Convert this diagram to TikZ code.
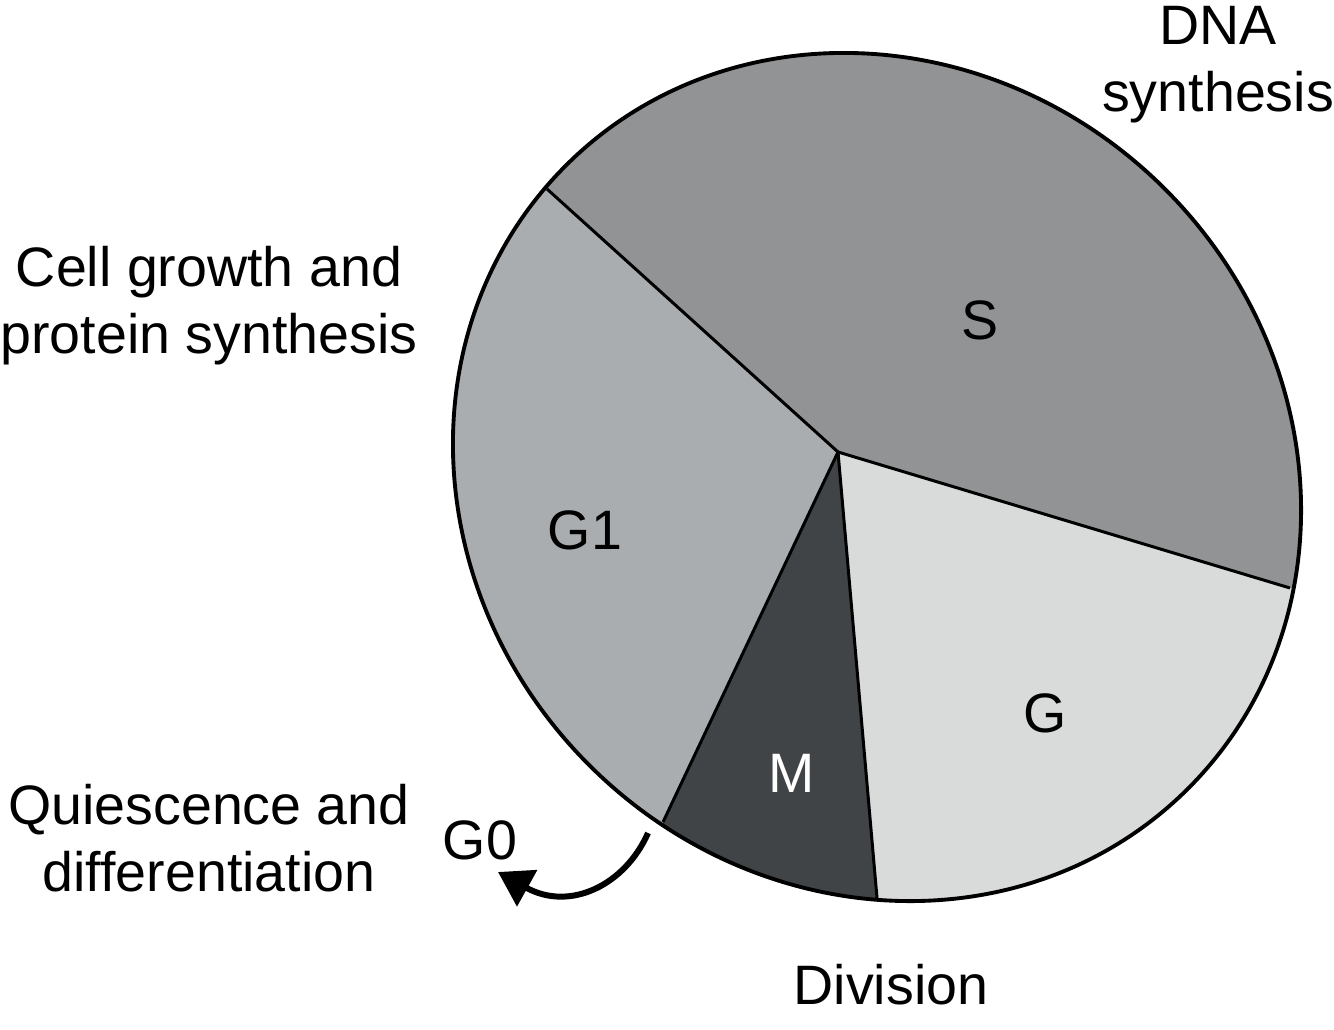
\documentclass[tikz,border=0pt]{standalone}
\usepackage{fontspec}
\setmainfont{Liberation Sans}
\usetikzlibrary{arrows.meta,calc}
\definecolor{sgray}{RGB}{146,147,149}
\definecolor{gonegray}{RGB}{170,173,175}
\definecolor{ggray}{RGB}{217,219,219}
\definecolor{mgray}{RGB}{64,68,70}
\tikzset{
  wedge/.style={draw=black, line width=0.85pt, line join=round},
  rim/.style={line width=1.1pt},
  lbl/.style={font=\fontsize{15.8}{19}\selectfont, align=center, inner sep=0pt},
  g0arrow/.style={line width=1.7pt, -{Triangle[length=9.5pt,width=11.5pt]}}
}
\begin{document}
\begin{tikzpicture}[x=0.01cm,y=0.01cm]
\useasboundingbox (0,0) rectangle (1334,1029);
\coordinate (C) at (877,552);
\coordinate (V) at (838,577);
\coordinate (Ptl) at (547,840);
\coordinate (Pr) at (1290,441);
\coordinate (Pb) at (877,131);
\coordinate (Pbl) at (663,207);
\coordinate (Etl) at ($(V)!2!(Ptl)$);
\coordinate (Er) at ($(V)!2!(Pr)$);
\coordinate (Eb) at ($(V)!2!(Pb)$);
\coordinate (Ebl) at ($(V)!2!(Pbl)$);
% wedges, clipped to the rim
\begin{scope}
\clip (C) ellipse[x radius=4.40cm, y radius=4.07cm, rotate=-45];
\fill[sgray] (V) -- (Etl) -- (1800,1300) -- (Er) -- cycle;
\fill[ggray] (V) -- (Er) -- (1800,-400) -- (Eb) -- cycle;
\fill[mgray] (V) -- (Eb) -- (Ebl) -- cycle;
\fill[gonegray] (V) -- (Ebl) -- (-300,-300) -- (-300,1300) -- (Etl) -- cycle;
\end{scope}
\draw[wedge] (Ptl) -- (V) -- (Pr);
\draw[wedge] (Pb) -- (V) -- (Pbl);
\draw[rim] (C) ellipse[x radius=4.40cm, y radius=4.07cm, rotate=-45];
% labels
\node[lbl] (dna) at (1218,964) {DNA\\synthesis};
\node[lbl] (growth) at (209,723) {Cell growth and\\protein synthesis};
\node[lbl] (quies) at (209,191) {Quiescence and\\differentiation};
\node[lbl] (div) at (891,44) {Division};
\node[lbl] (s) at (980,709) {S};
\node[lbl] (g1) at (585,499) {G1};
\node[lbl] (g) at (1045,316) {G};
\node[lbl, text=white] (m) at (792,256) {M};
\node[lbl] (g0) at (480,189) {G0};
% G0 arrow
\coordinate (g0start) at (648,196);
\coordinate (g0end) at (498,157);
\draw[g0arrow] (g0start) .. controls (625,144) and (570,117) .. (g0end);
\end{tikzpicture}
\end{document}
